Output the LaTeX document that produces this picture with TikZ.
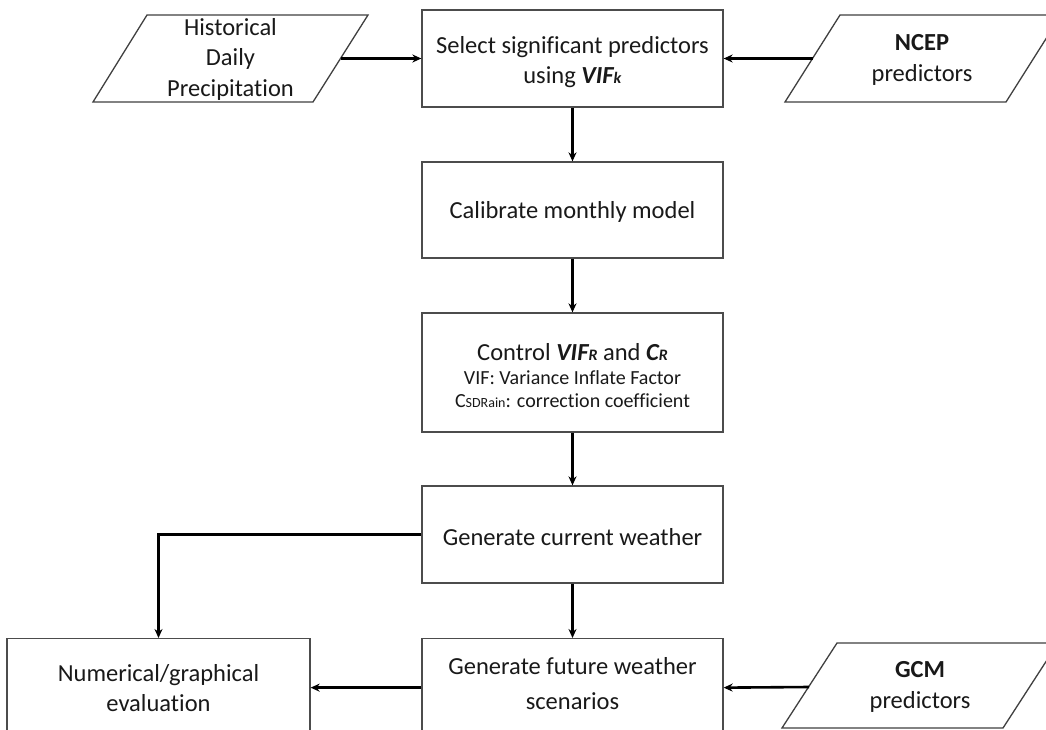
\documentclass[tikz,border=0pt]{standalone}
\usepackage{fontspec}
\setmainfont{Carlito}[Ligatures=NoCommon]
\usetikzlibrary{arrows.meta}
\newcommand{\mainfs}{\fontsize{24.5}{30.5}\selectfont}
\newcommand{\subfs}{\fontsize{16}{16}\selectfont}
\begin{document}
\begin{tikzpicture}[x=1pt,y=-1pt,
  box/.style={draw=black!70, line width=1.3pt, minimum width=301pt, inner sep=0pt},
  txt/.style={align=center, font=\mainfs, inner sep=0pt, text=black!90},
  para/.style={draw=black!75, line width=1.3pt, fill=white},
  arr/.style={line width=2.6pt, -{Stealth[length=9pt,width=8pt]}}]
\useasboundingbox (0,0) rectangle (1046,730);
\fill[white] (0,0) rectangle (1046,730);
\clip (0,0) rectangle (1046,730);

% input parallelograms
\draw[para] (147,15) -- (368,15) -- (313,102) -- (93,102) -- cycle;
\node[txt] (hist) at (230.5,59) {Historical\\Daily\\Precipitation};
\coordinate (histR) at (341,58.5);

\draw[para] (840,15) -- (1061,15) -- (1006,102) -- (785,102) -- cycle;
\node[txt] (ncep) at (922,60) {\textbf{NCEP}\\predictors};
\coordinate (ncepL) at (812.5,58.5);

\draw[para] (837,643) -- (1058,643) -- (1003,728) -- (782,728) -- cycle;
\node[txt] (gcm) at (920,687) {\textbf{GCM}\\predictors};
\coordinate (gcmL) at (809,687);

% process boxes
\node[box, minimum height=97pt] (sel) at (572.5,58.5) {};
\node[txt] (selt) at (572.5,62) {Select significant predictors\\using \textbf{\textit{VIF{\subfs k}}}};

\node[box, minimum height=96pt] (cal) at (572.5,210) {};
\node[txt] (calt) at (572.5,212) {Calibrate monthly model};

\node[box, minimum height=119pt] (con) at (572.5,372.5) {};
\node[txt, font=\fontsize{20}{23.5}\selectfont] (cont) at (572.5,376) {{\fontsize{24.5}{27}\selectfont Control \textbf{\textit{VIF{\subfs R}}} and \textbf{\textit{C{\subfs R}}}}\\VIF: Variance Inflate Factor\\C{\fontsize{14}{14}\selectfont SDRain}: correction coefficient};

\node[box, minimum height=97pt] (cur) at (572.5,534.5) {};
\node[txt] (curt) at (572.5,537) {Generate current weather};

\node[box, minimum height=98pt, anchor=north] (fut) at (572.5,638) {};
\node[txt, font=\fontsize{24.5}{35}\selectfont] (futt) at (572.5,684) {Generate future weather\\scenarios};

\node[draw=black!70, line width=1.3pt, minimum width=303pt, minimum height=98pt, anchor=north, inner sep=0pt] (num) at (158.5,638) {};
\node[txt] (numt) at (158.5,688) {Numerical/graphical\\evaluation};

% connectors
\draw[arr] (histR) -- (sel.west);
\draw[arr] (ncepL) -- (sel.east);
\draw[arr] (sel.south) -- (cal.north);
\draw[arr] (cal.south) -- (con.north);
\draw[arr] (con.south) -- (cur.north);
\draw[arr] (cur.south) -- (fut.north);
\draw[arr] (cur.west) -| (num.north);
\draw[arr] (fut.west) -- (num.east);
\draw[arr] (gcmL) -- (fut.east);
\end{tikzpicture}
\end{document}
